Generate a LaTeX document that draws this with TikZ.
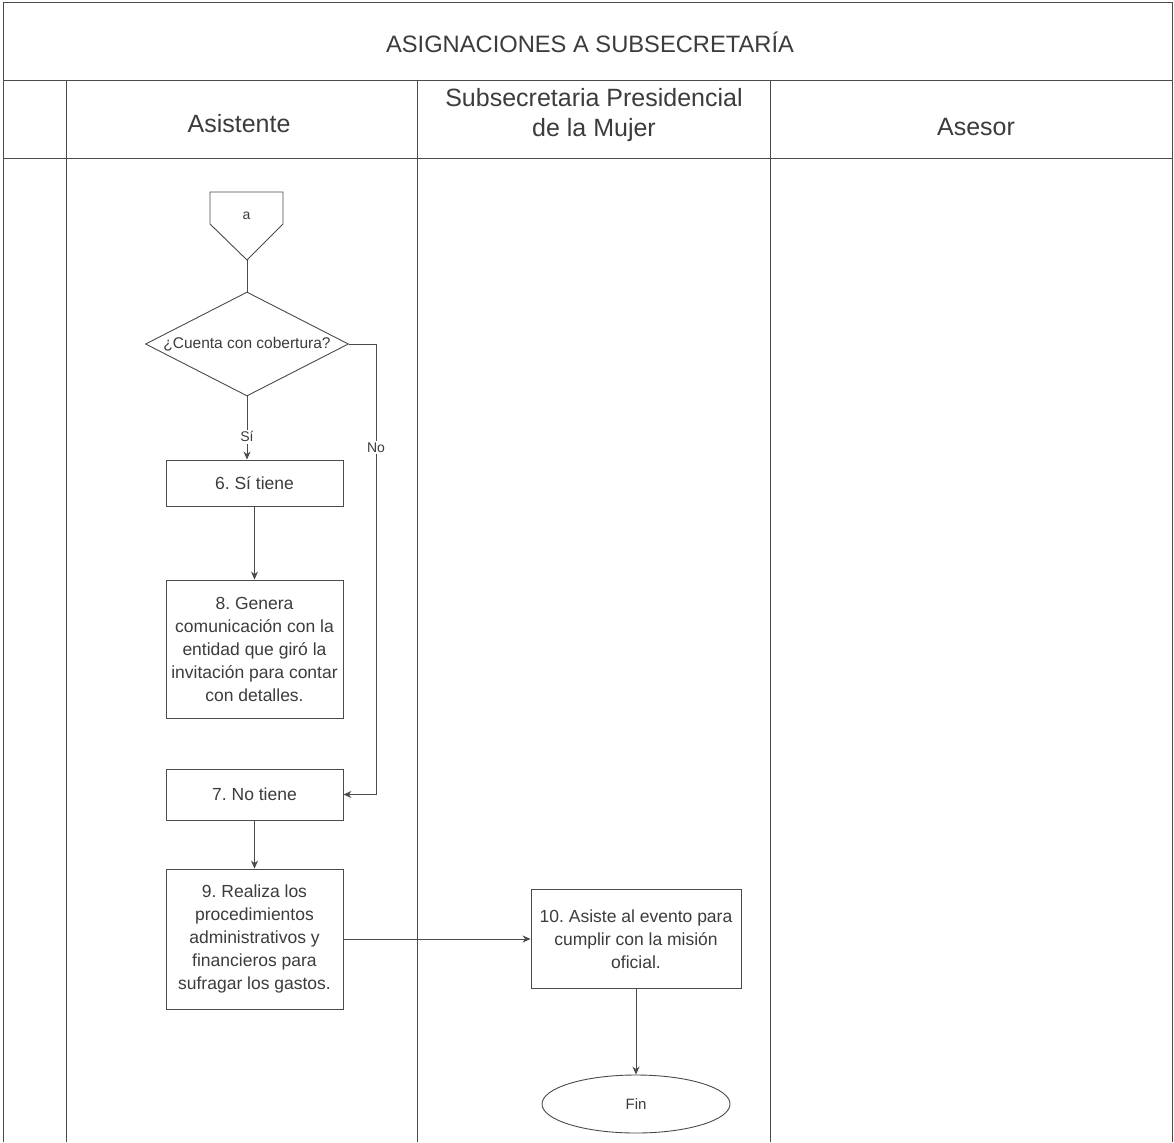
\documentclass[tikz,border=0pt]{standalone}
\usepackage{fontspec}
\setmainfont{Liberation Sans}
\usetikzlibrary{shapes.geometric,arrows.meta,calc}
\definecolor{ink}{HTML}{3C3C3C}
\definecolor{rule}{HTML}{4A4A4A}
\begin{document}
\frenchspacing
\begin{tikzpicture}[x=1pt,y=-1pt,
  lane/.style={draw=rule,line width=0.9pt},
  headtxt/.style={text=ink,font=\fontsize{25}{30}\selectfont,align=center},
  stepbox/.style={draw=rule,line width=0.9pt,text=ink,minimum width=177pt,align=center,
    font=\fontsize{17.5}{23}\selectfont,inner sep=0pt},
  decision/.style={draw=rule,line width=0.9pt,diamond,minimum width=203pt,minimum height=104pt,
    inner sep=0pt},
  terminal/.style={draw=rule,line width=0.9pt,ellipse,minimum width=188pt,minimum height=58pt,
    text=ink,font=\fontsize{15}{18}\selectfont},
  flow/.style={draw=rule,line width=0.9pt,-{Stealth[length=8pt,width=7pt]}},
  lab/.style={fill=white,text=ink,font=\fontsize{14}{16}\selectfont,inner sep=1.5pt}]
\useasboundingbox (0,0) rectangle (1174,1142);
\fill[white] (0,0) rectangle (1174,1142);

% swimlane frame
\draw[lane] (3,1142) -- (3,2) -- (1172,2) -- (1172,1142);
\draw[lane] (3,80) -- (1172,80);
\draw[lane] (3,158) -- (1172,158);
\draw[lane] (66,80) -- (66,1142);
\draw[lane] (417,80) -- (417,1142);
\draw[lane] (770,80) -- (770,1142);

% titles
\node[text=ink,font=\fontsize{23.7}{27}\selectfont] (title) at (590,42) {ASIGNACIONES A SUBSECRETARÍA};
\node[headtxt] (h1) at (239,124) {Asistente};
\node[headtxt] (h2) at (594,115) {Subsecretaria Presidencial\\de la Mujer};
\node[headtxt] (h3) at (976,127) {Asesor};

% off-page connector
\draw[lane] (210,192) -- (283,192) -- (283,224) -- (247,260) -- (210,224) -- cycle;
\node[text=ink,font=\fontsize{14}{16}\selectfont] (cona) at (246.5,216) {a};
\coordinate (atip) at (247,260);

% flow nodes
\node[decision] (dia) at (247,344) {};
\node[text=ink,font=\fontsize{15.5}{17}\selectfont,inner sep=0pt] (diatxt) at (dia.center) {¿Cuenta con cobertura?};
\node[stepbox,minimum height=46pt] (b6) at (254.5,483) {6. Sí tiene};
\node[stepbox,minimum height=138pt] (b8) at (254.5,649) {8. Genera\\comunicación con la\\entidad que giró la\\invitación para contar\\con detalles.};
\node[stepbox,minimum height=51pt] (b7) at (254.5,794.5) {7. No tiene};
\node[stepbox,minimum height=140pt] (b9) at (254.5,939) {9. Realiza los\\procedimientos\\administrativos y\\financieros para\\sufragar los gastos.};
\node[stepbox,minimum width=210pt,minimum height=99pt] (b10) at (636,939) {10. Asiste al evento para\\cumplir con la misión\\oficial.};
\node[terminal] (fin) at (636,1104) {Fin};

% connectors
\draw[lane] (atip) -- (dia.north);
\draw[flow] (dia.south) -- node[lab,pos=0.64]{Sí} (dia.south |- b6.north);
\draw[flow] (b6) -- (b8);
\coordinate (nx) at (376,344);
\draw[flow] (dia.east) -- (nx) -- node[lab,pos=0.23]{No} (nx |- b7.east) -- (b7.east);
\draw[flow] (b7) -- (b9);
\draw[flow] (b9) -- (b10);
\draw[flow] (b10) -- (fin);
\end{tikzpicture}
\end{document}
